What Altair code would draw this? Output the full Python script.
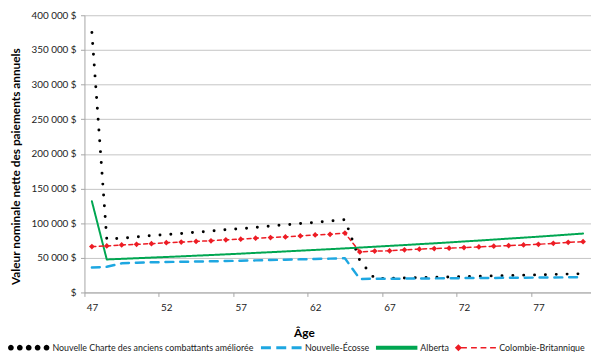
import math
import altair as alt
import pandas as pd

# ---------------- data ----------------
ages = [47, 48, 49, 50, 51, 52, 53, 54, 55, 56, 57, 58, 59, 60, 61, 62, 63,
        64, 65, 66, 67, 68, 69, 70, 71, 72, 73, 74, 75, 76, 77, 78, 79, 80]

series_names = [
    "Nouvelle Charte des anciens combattants améliorée",
    "Nouvelle-Écosse",
    "Alberta",
    "Colombie-Britannique",
]

nouvelle_charte = [375000, 77000, 78500, 80000, 82000, 83500, 85000, 87000, 88500,
                   90500, 92000, 94000, 96000, 97500, 99500, 101000, 103000, 105000,
                   46000, 20000, 20500, 21000, 21500, 22000, 22500, 23000, 23500,
                   24000, 24500, 25000, 25500, 26000, 26500, 27000]

nouvelle_ecosse = [36000, 37000, 42000, 43000, 43500, 44000, 44300, 44600, 45000,
                   45400, 45800, 46300, 46800, 47300, 47800, 48300, 48800, 49300,
                   19500, 19700, 19800, 20000, 20200, 20300, 20500, 20700, 20800,
                   21000, 21200, 21300, 21500, 21700, 21800, 22000]

alberta = [131500, 47600, 48500, 49400, 50300, 51200, 52100, 53100, 54000,
           55000, 56000, 57100, 58100, 59200, 60300, 61400, 62500, 63600,
           64800, 66000, 67200, 68400, 69700, 70900, 72200, 73600, 74900,
           76300, 77700, 79100, 80500, 82000, 83500, 85000]

colombie_britannique = [66200, 67100, 68500, 69500, 70400, 71800, 72700, 73700, 74600,
                        76000, 76900, 78300, 79300, 80200, 81600, 83000, 83900, 85700,
                        58500, 59700, 60100, 61500, 62500, 63400, 63900, 64800, 65700,
                        66700, 67600, 68600, 69500, 70900, 72300, 73200]

x_tick_labels = [47, 52, 57, 62, 67, 72, 77]
y_ticks = [0, 50000, 100000, 150000, 200000, 250000, 300000, 350000, 400000]

# ---------------- styles ----------------
colors = ["#000000", "#1ea7e1", "#00a651", "#ed1c24"]
dashes = [[0, 11], [8, 7], [1, 0], [4, 3.5]]
widths = [6.2, 3, 3, 1.5]

rows = []
for name, vals in zip(series_names, [nouvelle_charte, nouvelle_ecosse, alberta, colombie_britannique]):
    for a, v in zip(ages, vals):
        rows.append({"age": a, "value": v, "series": name})
df = pd.DataFrame(rows)

# line scales use a reversed domain so they stay separate from the legend scales
line_domain = series_names[::-1]
line_colors = colors[::-1]
line_dashes = dashes[::-1]
line_widths = widths[::-1]


# legend symbols as custom shapes (unit coords, scaled by sqrt(size)/2)
def rect(x0, x1, h):
    return f"M{x0:.3f},{-h:.3f}L{x1:.3f},{-h:.3f}L{x1:.3f},{h:.3f}L{x0:.3f},{h:.3f}Z"


def dot(cx, r, n=12):
    pts = []
    for i in range(n):
        t = 2 * math.pi * i / n
        pts.append(f"{cx + r * math.cos(t):.3f},{r * math.sin(t):.3f}")
    return "M" + "L".join(pts) + "Z"


sym_black = "".join(dot(c, 0.14) for c in [-0.86, -0.43, 0.0, 0.43, 0.86])
sym_blue = rect(-0.98, -0.5, 0.072) + rect(-0.24, 0.24, 0.072) + rect(0.5, 0.98, 0.072)
sym_green = rect(-1.0, 1.0, 0.095)
sym_red = ("M-1,0L-0.83,-0.17L-0.66,0L-0.83,0.17Z"
           + rect(-0.7, -0.42, 0.038) + rect(-0.22, 0.06, 0.038)
           + rect(0.24, 0.52, 0.038) + rect(0.7, 0.98, 0.038))
symbols = [sym_black, sym_blue, sym_green, sym_red]

FONT = "Lato"
AXIS_GRAY = "#a6a6a6"

x_axis = alt.Axis(
    values=x_tick_labels, format="d", grid=False,
    title="Âge", titleFont=FONT, titleFontSize=12, titleFontWeight="bold", titleColor="#000000",
    titleX=222.5, titleY=41, titleAlign="center", titleBaseline="middle",
    labelFont=FONT, labelFontSize=10, labelColor="#222222", labelPadding=6, labelFlush=False,
    tickSize=4, tickColor=AXIS_GRAY, domainColor=AXIS_GRAY,
    tickOffset=-7.54, labelOffset=7.54,
)

y_axis = alt.Axis(
    values=y_ticks, grid=True, gridColor="#c4c4c4",
    title="Valeur nominale nette des paiements annuels", titleFont=FONT, titleFontSize=12,
    titleFontWeight="bold", titleColor="#000000", titleAngle=270,
    titleX=-70, titleY=153, titleAlign="center", titleBaseline="middle",
    labelExpr="datum.value == 0 ? '$' : replace(format(datum.value, ','), ',', ' ') + ' $'",
    labelFont=FONT, labelFontSize=10, labelColor="#222222", labelPadding=4.5,
    tickSize=4, tickColor=AXIS_GRAY, domainColor=AXIS_GRAY,
)

x = alt.X("age:Q", scale=alt.Scale(domain=[46.5, 80.5], nice=False, zero=False), axis=x_axis)
y = alt.Y("value:Q", scale=alt.Scale(domain=[0, 400000], nice=False), axis=y_axis)

lines = alt.Chart(df).mark_line(strokeCap="round", strokeJoin="round").encode(
    x=x, y=y,
    stroke=alt.Stroke("series:N", scale=alt.Scale(domain=line_domain, range=line_colors), legend=None),
    strokeDash=alt.StrokeDash("series:N", scale=alt.Scale(domain=line_domain, range=line_dashes), legend=None),
    strokeWidth=alt.StrokeWidth("series:N", scale=alt.Scale(domain=line_domain, range=line_widths), legend=None),
)

diamonds = alt.Chart(df).transform_filter(
    alt.datum.series == series_names[3]
).mark_point(shape="diamond", filled=True, size=34, color=colors[3], opacity=1).encode(x=x, y=y)

legend_cfg = alt.Legend(
    title=None, orient="none", legendX=-77.5, legendY=316,
    direction="horizontal", columns=4,
    symbolSize=1764, symbolStrokeWidth=0, symbolOffset=0, symbolOpacity=1,
    labelFont=FONT, labelFontSize=9, labelColor="#222222", labelOffset=3, labelLimit=400,
    columnPadding=6, padding=0,
)

key = alt.Chart(df).transform_filter("false").mark_point(filled=True).encode(
    x=x, y=y,
    fill=alt.Fill("series:N", scale=alt.Scale(domain=series_names, range=colors), legend=legend_cfg),
    shape=alt.Shape("series:N", scale=alt.Scale(domain=series_names, range=symbols), legend=legend_cfg),
)

chart = alt.layer(lines, diamonds, key).properties(
    width=513, height=281,
    autosize=alt.AutoSizeParams(type="none"),
    padding={"left": 77.5, "top": 5, "right": 1.5, "bottom": 58},
    background="white",
).configure_view(stroke=None)

chart.save("out.html", embed_options={"renderer": "svg", "actions": False})
